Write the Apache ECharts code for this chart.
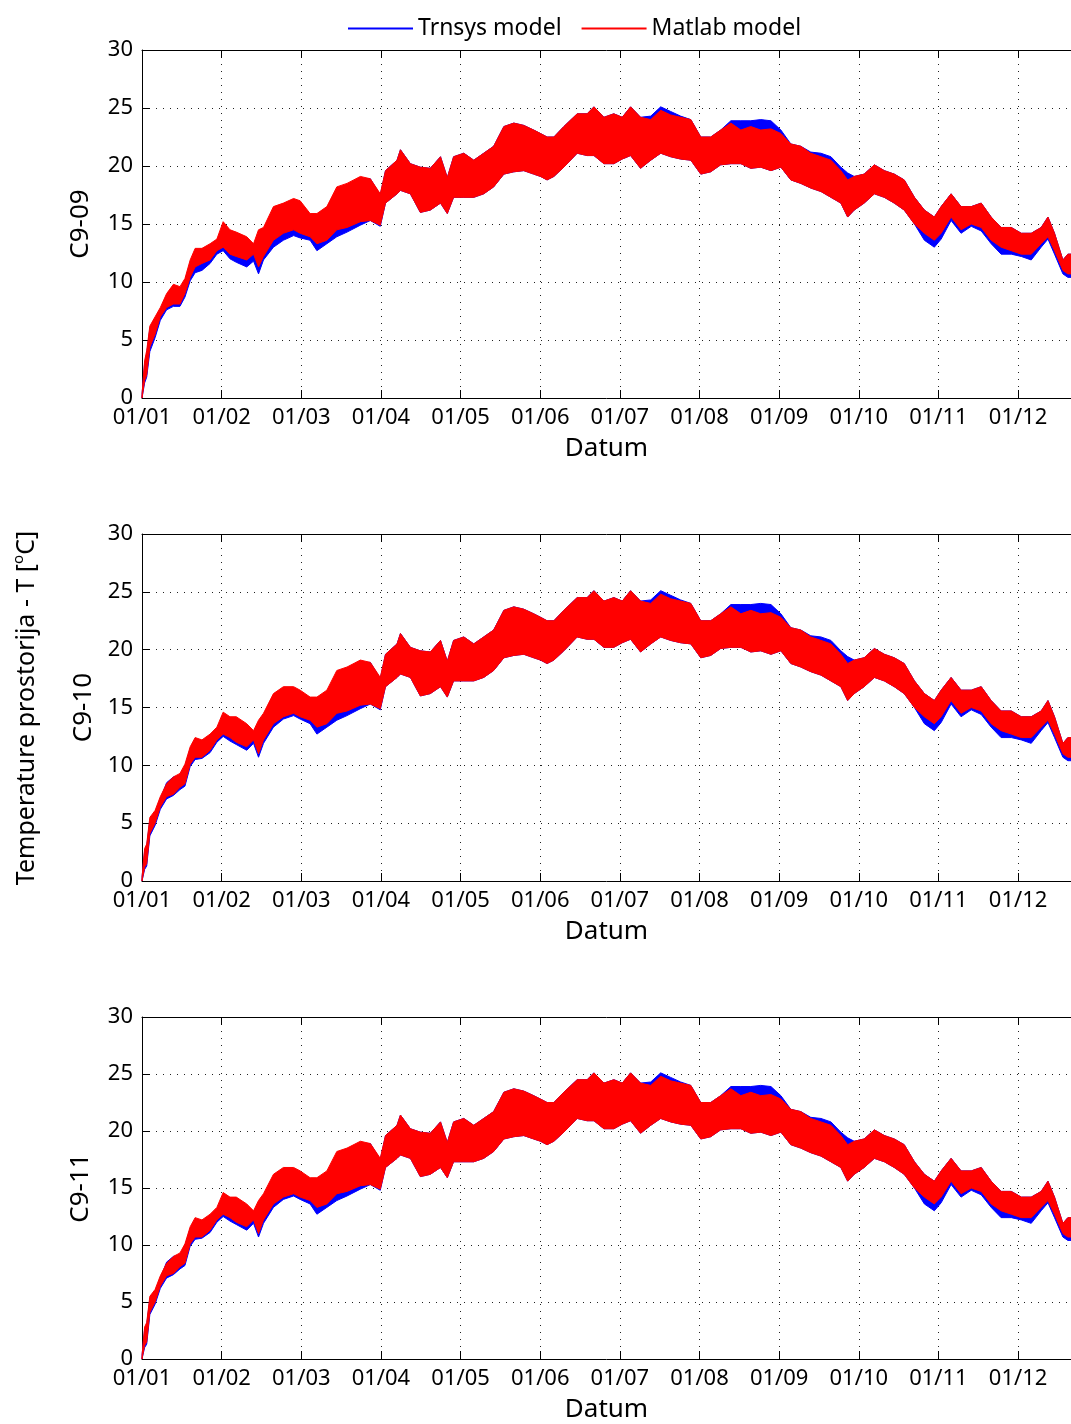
<!DOCTYPE html>
<html><head><meta charset="utf-8">
<script src="https://cdn.jsdelivr.net/npm/echarts@6/dist/echarts.min.js"></script>
<style>html,body{margin:0;padding:0;background:#fff}#c{width:1071px;height:1424px}</style>
</head><body><div id="c"></div>
<script>
const monthLabels = ['01/01','01/02','01/03','01/04','01/05','01/06','01/07','01/08','01/09','01/10','01/11','01/12'];
const panelNames = ['C9-09','C9-10','C9-11'];
const legendNames = ['Trnsys model','Matlab model'];
const yAxisTitle = 'Temperature prostorija - T [';
const xAxisTitle = 'Datum';

// day of year of each reading
const days = [0,1,1.8,3,5,7,9.4,12,14.5,16.4, 18.4,20.3,22.9,26,28.6,31,33.6,36,40,42.6, 44.5,46.4,50.2,54,57.9,60.4,64.2,66.8,70.6,74.4, 78.3,83.4,87.2,91,93,97.4,98.7,102.5,106.3,110.1, 114,116.6,119,122.9,126.7,130.5,134.3,138.2,142,145.8, 149.6,152.2,154.7,157.3,161.1,166.2,170,172.6,176.4,180.2, 183.4,186.6,190.4,194.3,198.1,201.9,205.7,209.6,213.4,217.2, 221,224.9,228.7,232.5,236.3,240.2,244,247.8,251.6,255.4, 259.3,263.1,266.9,269.5,272,275.8,279.7,283.5,287.3,291.1, 295,298.8,302.6,305.2,309,312.8,316.7,320.5,324.3,328.1, 332,335.8,339.6,343.4,346,348.5,351.7,353.6,354.8];

// C9-09 : daily low / high envelopes
const c909MatlabLow = [0,1.5,2.0,4.4,5.5,7.0,7.8,8.1,8.1,9.0, 10.4,11.3,11.6,11.9,12.7,13.0,12.4,12.2,11.9,12.4, 11.3,12.2,13.6,14.2,14.5,14.2,13.9,13.3,13.6,14.5, 14.7,15.2,15.3,14.9,16.8,17.6,17.9,17.6,16.0,16.2, 16.8,15.9,17.3,17.3,17.3,17.6,18.2,19.3,19.5,19.6, 19.3,19.1,18.8,19.1,19.9,21.1,20.9,20.9,20.2,20.2, 20.6,20.9,19.8,20.5,21.1,20.8,20.6,20.5,19.3,19.5, 20.1,20.2,20.2,19.8,19.9,19.6,19.9,18.8,18.5,18.1, 17.8,17.3,16.8,15.6,16.2,16.8,17.6,17.3,16.8,16.2, 15.0,14.2,13.6,14.2,15.6,14.5,15.0,14.7,13.6,13.0, 12.7,12.4,12.4,13.3,13.9,12.7,11.0,10.7,10.7];
const c909MatlabHigh = [0.3,3.2,4.1,6.2,7.0,7.8,9.0,9.8,9.6,10.3, 11.9,12.9,12.9,13.3,13.7,15.2,14.5,14.3,13.9,13.3, 14.5,14.7,16.5,16.8,17.2,17.0,15.9,15.9,16.5,18.2, 18.5,19.1,18.9,17.6,19.6,20.5,21.4,20.2,19.9,19.8, 20.8,19.0,20.8,21.1,20.5,21.1,21.7,23.4,23.7,23.5, 23.1,22.8,22.5,22.5,23.4,24.5,24.5,25.1,24.2,24.5, 24.2,25.1,24.2,24.0,24.8,24.4,24.2,24.0,22.5,22.5, 23.1,23.7,23.1,23.4,23.1,23.2,22.8,21.9,21.7,21.1, 20.8,20.5,19.6,18.8,19.1,19.3,20.1,19.6,19.3,18.8, 17.3,16.2,15.6,16.5,17.6,16.5,16.5,16.8,15.6,14.7, 14.7,14.2,14.2,14.7,15.6,14.2,11.9,12.4,12.4];
const c909TrnsysLow = [0,1.3,1.8,4.0,5.2,6.7,7.6,7.9,7.9,8.7, 10.1,10.8,11.0,11.6,12.4,12.7,12.0,11.7,11.3,11.8, 10.7,11.9,13.0,13.6,14.0,13.8,13.6,12.7,13.3,13.9, 14.3,14.9,15.3,14.8,16.8,17.6,17.9,17.6,16.0,16.2, 16.8,15.9,17.3,17.3,17.3,17.6,18.2,19.3,19.5,19.6, 19.3,19.1,18.8,19.1,19.9,21.1,20.9,20.9,20.2,20.2, 20.6,20.9,19.8,20.5,21.1,20.8,20.6,20.5,19.3,19.5, 20.1,20.2,20.2,19.8,19.9,19.6,19.9,18.8,18.5,18.1, 17.8,17.3,16.8,15.6,16.2,16.8,17.6,17.3,16.8,16.2, 15.0,13.6,13.0,13.7,15.3,14.2,14.8,14.4,13.3,12.4, 12.4,12.2,11.9,13.0,13.7,12.4,10.7,10.4,10.4];
const c909TrnsysHigh = [0.3,3.0,3.8,6.0,6.8,7.6,8.8,9.6,9.4,10.1, 11.6,12.5,12.6,13.0,13.5,14.8,14.2,14.0,13.6,13.2, 14.0,14.4,16.2,16.5,17.0,16.8,15.7,15.6,16.3,17.9, 18.3,18.9,18.9,17.5,19.6,20.5,21.4,20.2,19.9,19.8, 20.8,19.0,20.8,21.1,20.5,21.1,21.7,23.4,23.7,23.5, 23.1,22.8,22.5,22.5,23.4,24.5,24.5,25.1,24.2,24.5, 24.2,25.1,24.2,24.3,25.1,24.7,24.3,24.0,22.5,22.5, 23.1,23.9,23.9,23.9,24.0,23.9,23.1,21.9,21.7,21.2, 21.1,20.8,19.9,19.4,19.1,19.3,20.1,19.6,19.3,18.8, 17.3,16.2,15.6,16.5,17.6,16.5,16.5,16.8,15.6,14.7, 14.7,14.2,14.2,14.7,15.6,14.2,11.9,12.4,12.4];

// C9-10
const c910MatlabLow = [0,1.2,1.5,4.1,5.0,6.4,7.3,7.5,8.1,8.4, 10.1,10.7,10.7,11.3,12.2,12.7,12.4,12.0,11.6,12.2, 11.0,12.2,13.6,14.2,14.5,14.2,13.9,13.3,13.6,14.5, 14.7,15.2,15.3,14.9,16.8,17.6,17.9,17.6,16.0,16.2, 16.8,15.9,17.3,17.3,17.3,17.6,18.2,19.3,19.5,19.6, 19.3,19.1,18.8,19.1,19.9,21.1,20.9,20.9,20.2,20.2, 20.6,20.9,19.8,20.5,21.1,20.8,20.6,20.5,19.3,19.5, 20.1,20.2,20.2,19.8,19.9,19.6,19.9,18.8,18.5,18.1, 17.8,17.3,16.8,15.6,16.2,16.8,17.6,17.3,16.8,16.2, 15.0,14.2,13.6,14.2,15.6,14.5,15.0,14.7,13.6,13.0, 12.7,12.4,12.4,13.3,13.9,12.7,11.0,10.7,10.7];
const c910MatlabHigh = [0.3,2.8,3.2,5.5,6.1,7.3,8.4,9.0,9.3,10.1, 11.6,12.4,12.2,12.7,13.3,14.6,14.2,14.2,13.6,13.0, 13.9,14.5,16.2,16.8,16.8,16.5,15.9,15.9,16.5,18.2, 18.5,19.1,18.9,17.6,19.6,20.5,21.4,20.2,19.9,19.8, 20.8,19.0,20.8,21.1,20.5,21.1,21.7,23.4,23.7,23.5, 23.1,22.8,22.5,22.5,23.4,24.5,24.5,25.1,24.2,24.5, 24.2,25.1,24.2,24.0,24.8,24.4,24.2,24.0,22.5,22.5, 23.1,23.7,23.1,23.4,23.1,23.2,22.8,21.9,21.7,21.1, 20.8,20.5,19.6,18.8,19.1,19.3,20.1,19.6,19.3,18.8, 17.3,16.2,15.6,16.5,17.6,16.5,16.5,16.8,15.6,14.7, 14.7,14.2,14.2,14.7,15.6,14.2,11.9,12.4,12.4];
const c910TrnsysLow = [0,1.0,1.3,3.9,4.8,6.2,7.1,7.4,7.9,8.2, 9.9,10.5,10.6,11.1,12.0,12.5,12.1,11.8,11.3,11.9, 10.7,11.9,13.3,14.0,14.3,14.0,13.6,12.7,13.3,13.9, 14.3,14.9,15.3,14.8,16.8,17.6,17.9,17.6,16.0,16.2, 16.8,15.9,17.3,17.3,17.3,17.6,18.2,19.3,19.5,19.6, 19.3,19.1,18.8,19.1,19.9,21.1,20.9,20.9,20.2,20.2, 20.6,20.9,19.8,20.5,21.1,20.8,20.6,20.5,19.3,19.5, 20.1,20.2,20.2,19.8,19.9,19.6,19.9,18.8,18.5,18.1, 17.8,17.3,16.8,15.6,16.2,16.8,17.6,17.3,16.8,16.2, 15.0,13.6,13.0,13.7,15.3,14.2,14.8,14.4,13.3,12.4, 12.4,12.2,11.9,13.0,13.7,12.4,10.7,10.4,10.4];
const c910TrnsysHigh = [0.3,2.6,3.0,5.3,5.9,7.1,8.5,9.0,9.1,9.9, 11.4,12.2,12.0,12.5,13.1,14.3,14.0,14.0,13.4,12.9, 13.6,14.3,16.0,16.6,16.7,16.4,15.7,15.6,16.3,17.9, 18.3,18.9,18.9,17.5,19.6,20.5,21.4,20.2,19.9,19.8, 20.8,19.0,20.8,21.1,20.5,21.1,21.7,23.4,23.7,23.5, 23.1,22.8,22.5,22.5,23.4,24.5,24.5,25.1,24.2,24.5, 24.2,25.1,24.2,24.3,25.1,24.7,24.3,24.0,22.5,22.5, 23.1,23.9,23.9,23.9,24.0,23.9,23.1,21.9,21.7,21.2, 21.1,20.8,19.9,19.4,19.1,19.3,20.1,19.6,19.3,18.8, 17.3,16.2,15.6,16.5,17.6,16.5,16.5,16.8,15.6,14.7, 14.7,14.2,14.2,14.7,15.6,14.2,11.9,12.4,12.4];

// C9-11
const c911MatlabLow = [0,1.2,1.5,4.1,5.0,6.4,7.3,7.5,8.1,8.4, 10.1,10.7,10.7,11.3,12.2,12.7,12.4,12.0,11.6,12.2, 11.0,12.2,13.6,14.2,14.5,14.2,13.9,13.3,13.6,14.5, 14.7,15.2,15.3,14.9,16.8,17.6,17.9,17.6,16.0,16.2, 16.8,15.9,17.3,17.3,17.3,17.6,18.2,19.3,19.5,19.6, 19.3,19.1,18.8,19.1,19.9,21.1,20.9,20.9,20.2,20.2, 20.6,20.9,19.8,20.5,21.1,20.8,20.6,20.5,19.3,19.5, 20.1,20.2,20.2,19.8,19.9,19.6,19.9,18.8,18.5,18.1, 17.8,17.3,16.8,15.6,16.2,16.8,17.6,17.3,16.8,16.2, 15.0,14.2,13.6,14.2,15.6,14.5,15.0,14.7,13.6,13.0, 12.7,12.4,12.4,13.3,13.9,12.7,11.0,10.7,10.7];
const c911MatlabHigh = [0.3,2.8,3.2,5.5,6.1,7.3,8.4,9.0,9.3,10.1, 11.6,12.4,12.2,12.7,13.3,14.6,14.2,14.2,13.6,13.0, 13.9,14.5,16.2,16.8,16.8,16.5,15.9,15.9,16.5,18.2, 18.5,19.1,18.9,17.6,19.6,20.5,21.4,20.2,19.9,19.8, 20.8,19.0,20.8,21.1,20.5,21.1,21.7,23.4,23.7,23.5, 23.1,22.8,22.5,22.5,23.4,24.5,24.5,25.1,24.2,24.5, 24.2,25.1,24.2,24.0,24.8,24.4,24.2,24.0,22.5,22.5, 23.1,23.7,23.1,23.4,23.1,23.2,22.8,21.9,21.7,21.1, 20.8,20.5,19.6,18.8,19.1,19.3,20.1,19.6,19.3,18.8, 17.3,16.2,15.6,16.5,17.6,16.5,16.5,16.8,15.6,14.7, 14.7,14.2,14.2,14.7,15.6,14.2,11.9,12.4,12.4];
const c911TrnsysLow = [0,1.0,1.3,3.9,4.8,6.2,7.1,7.4,7.9,8.2, 9.9,10.5,10.6,11.1,12.0,12.5,12.1,11.8,11.3,11.9, 10.7,11.9,13.3,14.0,14.3,14.0,13.6,12.7,13.3,13.9, 14.3,14.9,15.3,14.8,16.8,17.6,17.9,17.6,16.0,16.2, 16.8,15.9,17.3,17.3,17.3,17.6,18.2,19.3,19.5,19.6, 19.3,19.1,18.8,19.1,19.9,21.1,20.9,20.9,20.2,20.2, 20.6,20.9,19.8,20.5,21.1,20.8,20.6,20.5,19.3,19.5, 20.1,20.2,20.2,19.8,19.9,19.6,19.9,18.8,18.5,18.1, 17.8,17.3,16.8,15.6,16.2,16.8,17.6,17.3,16.8,16.2, 15.0,13.6,13.0,13.7,15.3,14.2,14.8,14.4,13.3,12.4, 12.4,12.2,11.9,13.0,13.7,12.4,10.7,10.4,10.4];
const c911TrnsysHigh = [0.3,2.6,3.0,5.3,5.9,7.1,8.5,9.0,9.1,9.9, 11.4,12.2,12.0,12.5,13.1,14.3,14.0,14.0,13.4,12.9, 13.6,14.3,16.0,16.6,16.7,16.4,15.7,15.6,16.3,17.9, 18.3,18.9,18.9,17.5,19.6,20.5,21.4,20.2,19.9,19.8, 20.8,19.0,20.8,21.1,20.5,21.1,21.7,23.4,23.7,23.5, 23.1,22.8,22.5,22.5,23.4,24.5,24.5,25.1,24.2,24.5, 24.2,25.1,24.2,24.3,25.1,24.7,24.3,24.0,22.5,22.5, 23.1,23.9,23.9,23.9,24.0,23.9,23.1,21.9,21.7,21.2, 21.1,20.8,19.9,19.4,19.1,19.3,20.1,19.6,19.3,18.8, 17.3,16.2,15.6,16.5,17.6,16.5,16.5,16.8,15.6,14.7, 14.7,14.2,14.2,14.7,15.6,14.2,11.9,12.4,12.4];

const panels = [
  {trnsys:[c909TrnsysLow,c909TrnsysHigh], matlab:[c909MatlabLow,c909MatlabHigh]},
  {trnsys:[c910TrnsysLow,c910TrnsysHigh], matlab:[c910MatlabLow,c910MatlabHigh]},
  {trnsys:[c911TrnsysLow,c911TrnsysHigh], matlab:[c911MatlabLow,c911MatlabHigh]}
];

const FONT = 'Noto Sans';
const HOURS_PER_TICK = 730;
const XMAX = 8515;
const gridPos = [{top:50,height:348},{top:534,height:347},{top:1017,height:347}];
const yNameGap = [48,35,48];

const xFmt = v => { const k = v / HOURS_PER_TICK; const r = Math.round(k); return Math.abs(k - r) < 1e-6 ? (monthLabels[r] || '') : ''; };

const grids=[], xAxes=[], yAxes=[], series=[];
gridPos.forEach((g,i)=>{
  grids.push({left:142, right:0, top:g.top, height:g.height, containLabel:false});
});
gridPos.forEach((g,i)=>{
  xAxes.push({type:'value', gridIndex:i, min:0, max:XMAX, interval:HOURS_PER_TICK, position:'bottom',
    name:xAxisTitle, nameLocation:'middle', nameGap:38,
    nameTextStyle:{fontSize:26,color:'#000',fontFamily:FONT},
    axisLine:{show:true,onZero:false,lineStyle:{color:'#000',width:1}},
    axisTick:{show:true,inside:true,length:8,lineStyle:{color:'#000'}},
    axisLabel:{fontSize:22,color:'#000',fontFamily:FONT,margin:9,formatter:xFmt,showMaxLabel:false},
    splitLine:{show:true,lineStyle:{color:'#222',type:[1,6],width:1}}});
});
gridPos.forEach((g,i)=>{
  xAxes.push({type:'value', gridIndex:i, min:0, max:XMAX, interval:HOURS_PER_TICK, position:'top',
    axisLine:{show:true,onZero:false,lineStyle:{color:'#000',width:1}},
    axisTick:{show:true,inside:true,length:8,lineStyle:{color:'#000'}},
    axisLabel:{show:false}, splitLine:{show:false}});
});
gridPos.forEach((g,i)=>{
  yAxes.push({type:'value', gridIndex:i, min:0, max:30, interval:5,
    name:panelNames[i], nameLocation:'middle', nameGap:yNameGap[i],
    nameTextStyle:{fontSize:26,color:'#000',fontFamily:FONT},
    axisLine:{show:true,onZero:false,lineStyle:{color:'#000',width:1}},
    axisTick:{show:true,inside:true,length:8,lineStyle:{color:'#000'}},
    axisLabel:{fontSize:22,color:'#000',fontFamily:FONT,margin:9},
    splitLine:{show:true,lineStyle:{color:'#222',type:[1,6],width:1}}});
});

// band between daily low and high envelopes, positioned by the axis scales (api.coord)
function band(lo, hi, name, color, i){
  const data = days.map((d,k)=>[d*24, lo[k], hi[k]]);
  return {type:'custom', name:name, xAxisIndex:i, yAxisIndex:i, data:data,
    encode:{x:0, y:[1,2]}, itemStyle:{color:color}, silent:true,
    renderItem:function(params, api){
      if (params.dataIndex !== 0) return null;
      const top=[], bot=[];
      for (let k=0;k<data.length;k++){
        top.push(api.coord([data[k][0], data[k][2]]));
        bot.push(api.coord([data[k][0], data[k][1]]));
      }
      return {type:'polygon', shape:{points: top.concat(bot.reverse())},
        style:{fill:color, stroke:color, lineWidth:1}};
    }};
}
panels.forEach((p,i)=>{
  series.push(band(p.trnsys[0], p.trnsys[1], legendNames[0], '#0000ff', i));
  series.push(band(p.matlab[0], p.matlab[1], legendNames[1], '#ff0000', i));
});

const chart = echarts.init(document.getElementById('c'), null, {renderer:'canvas'});
chart.setOption({
  animation:false,
  backgroundColor:'#fff',
  legend:{data:legendNames, left:343, top:12, icon:'rect', itemWidth:65, itemHeight:2, itemGap:20,
    textStyle:{fontSize:23,color:'#000',fontFamily:FONT}},
  grid:grids, xAxis:xAxes, yAxis:yAxes, series:series,
  graphic:[{type:'text', x:27, y:708, rotation:Math.PI/2,
    style:{text:'{a|'+yAxisTitle+'}{s|o}{a|C]}', align:'center', verticalAlign:'middle',
      rich:{a:{fontSize:25,fontFamily:FONT,fill:'#000',lineHeight:32}, s:{fontSize:15,fontFamily:FONT,fill:'#000',verticalAlign:'top',lineHeight:32}}}}]
});
</script></body></html>
